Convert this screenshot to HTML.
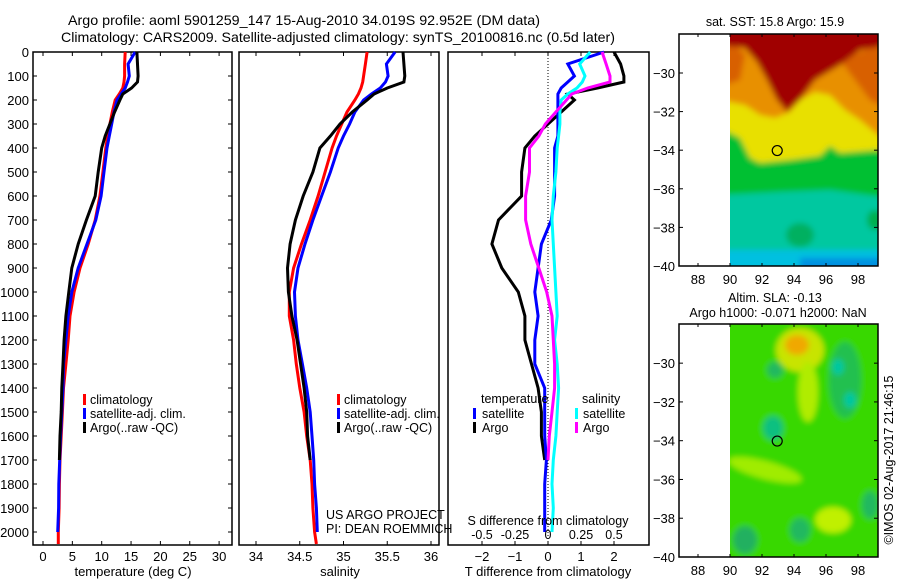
<!DOCTYPE html>
<html><head><meta charset="utf-8"><style>
html,body{margin:0;padding:0;background:#fff;}
svg{display:block;font-family:"Liberation Sans",sans-serif;}
</style></head><body>
<svg id="fig" width="900" height="580" viewBox="0 0 900 580" xmlns="http://www.w3.org/2000/svg">
<text x="68" y="25" font-size="14" textLength="472" lengthAdjust="spacingAndGlyphs">Argo profile: aoml 5901259_147 15-Aug-2010 34.019S 92.952E (DM data)</text>
<text x="61" y="42" font-size="14" textLength="554" lengthAdjust="spacingAndGlyphs">Climatology: CARS2009. Satellite-adjusted climatology: synTS_20100816.nc (0.5d later)</text>
<g id="maps"></g>
<g id="panels"></g>
</svg>
<script>
// ---- profile data ----
const depths = [0,50,100,125,150,175,200,250,300,350,400,500,600,700,800,900,1000,1100,1200,1300,1400,1500,1600,1700,1800,1900,2000,2050];
const tempClim = [14.0,13.9,13.9,13.8,13.6,13.0,12.3,11.8,11.4,11.0,10.7,10.2,9.7,8.9,7.7,6.3,5.3,4.6,4.3,3.9,3.5,3.3,3.1,2.9,2.8,2.75,2.6,2.6];
const tempSat = [15.7,14.5,14.7,14.4,14.0,13.3,12.6,12.1,11.7,11.3,10.9,10.4,9.9,9.0,7.5,6.0,4.9,4.3,3.9,3.5,3.4,3.2,3.0,2.85,2.7,2.65,2.5,null];
const tempArgo = [16.0,16.1,16.2,16.1,15.1,13.6,13.1,12.2,11.4,10.6,10.0,9.4,8.9,7.4,6.0,4.9,4.4,3.9,3.6,3.4,3.2,3.1,2.9,2.8,null,null,null,null];
const salClim = [35.27,35.25,35.23,35.22,35.20,35.17,35.13,35.04,34.98,34.92,34.87,34.79,34.71,34.62,34.52,34.43,34.38,34.38,34.43,34.46,34.50,34.55,34.58,34.62,34.64,34.65,34.67,34.69];
const salSat = [35.59,35.49,35.51,35.48,35.42,35.32,35.23,35.13,35.07,35.00,34.94,34.85,34.75,34.65,34.56,34.48,34.44,34.45,34.48,34.53,34.58,34.62,34.64,34.66,34.67,34.69,34.70,null];
const salArgo = [35.68,35.69,35.70,35.69,35.50,35.35,35.27,35.10,34.96,34.85,34.73,34.65,34.54,34.45,34.39,34.36,34.37,34.41,34.47,34.51,34.55,34.58,34.59,34.62,null,null,null,null];
const depthTicks = [0,100,200,300,400,500,600,700,800,900,1000,1100,1200,1300,1400,1500,1600,1700,1800,1900,2000];
const tempTicks = [0,5,10,15,20,25,30];
const salTicks = [34,34.5,35,35.5,36];
const salTickLabels = ["34","34.5","35","35.5","36"];
const tdTicks = [-2,-1,0,1,2];
const sdTicks = [-0.5,-0.25,0,0.25,0.5];
const sdTickLabels = ["-0.5","-0.25","0","0.25","0.5"];
const mapLonTicks = [88,90,92,94,96,98];
const mapLatTicks = [-30,-32,-34,-36,-38,-40];
const argoLon = 92.952, argoLat = -34.019;

const NS="http://www.w3.org/2000/svg";
const panels=document.getElementById('panels');
const mapsG=document.getElementById('maps');
function mk(tag,attrs,parent){const e=document.createElementNS(NS,tag);for(const k in attrs)e.setAttribute(k,attrs[k]);(parent||panels).appendChild(e);return e;}
const yD = d => 52 + d*0.24;
const xT = t => 43 + t*5.87;
const xS = s => 256 + (s-34)*87.5;
const xTD = t => 548 + t*33;
const xSD = s => 548 + s*132;

function line(vals,xf,color,name,w){
  let d='';let pen=false;
  vals.forEach((v,i)=>{ if(v===null||v===undefined||isNaN(v)){pen=false;return;}
    d+=(pen?'L':'M')+xf(v).toFixed(1)+' '+yD(depths[i]).toFixed(1);pen=true;});
  const p=mk('path',{d:d,fill:'none',stroke:color,'stroke-width':w||3,'stroke-linejoin':'miter'});
  
  
}
function txt(x,y,s,size,anchor,name){const t=mk('text',{x:x,y:y,'font-size':size,'text-anchor':anchor||'start'});t.textContent=s;
  
  return t;}
function frame(x0,x1,name){const r=mk('rect',{x:x0,y:52,width:x1-x0,height:493,fill:'none',stroke:'#000','stroke-width':1.5});
  
  }
function legendMark(x,y,color,name){const r=mk('rect',{x:x,y:y-10,width:3,height:11,fill:color});
  
  }

// Panel 1: temperature
frame(33,232,'temperature-panel');
depthTicks.forEach(d=>{mk('line',{x1:33,x2:37,y1:yD(d),y2:yD(d),stroke:'#000'});mk('line',{x1:228,x2:232,y1:yD(d),y2:yD(d),stroke:'#000'});
  txt(29,yD(d)+5,String(d),13,'end','depth-tick-label');});
tempTicks.forEach(t=>{mk('line',{x1:xT(t),x2:xT(t),y1:52,y2:56,stroke:'#000'});mk('line',{x1:xT(t),x2:xT(t),y1:541,y2:545,stroke:'#000'});
  txt(xT(t),561,String(t),13,'middle','temperature-tick-label');});
txt(133,576,'temperature (deg C)',13,'middle','temperature-axis-title');
line(tempClim,xT,'#f00','temp-climatology-line');
line(tempSat,xT,'#00f','temp-satellite-line');
line(tempArgo,xT,'#000','temp-argo-line');
legendMark(83,404,'#f00','legend-climatology-marker');txt(90,404,'climatology',12.5,'start','legend-climatology');
legendMark(83,418,'#00f','legend-satellite-marker');txt(90,418,'satellite-adj. clim.',12.5,'start','legend-satellite');
legendMark(83,432,'#000','legend-argo-marker');txt(90,432,'Argo(..raw -QC)',12.5,'start','legend-argo');

// Panel 2: salinity
frame(239,439,'salinity-panel');
salTicks.forEach((s,i)=>{mk('line',{x1:xS(s),x2:xS(s),y1:52,y2:56,stroke:'#000'});mk('line',{x1:xS(s),x2:xS(s),y1:541,y2:545,stroke:'#000'});
  txt(xS(s),561,salTickLabels[i],13,'middle','salinity-tick-label');});
txt(340,576,'salinity',13,'middle','salinity-axis-title');
line(salClim,xS,'#f00','sal-climatology-line');
line(salSat,xS,'#00f','sal-satellite-line');
line(salArgo,xS,'#000','sal-argo-line');
legendMark(337,404,'#f00','legend2-climatology-marker');txt(344,404,'climatology',12.5,'start','legend2-climatology');
legendMark(337,418,'#00f','legend2-satellite-marker');txt(344,418,'satellite-adj. clim.',12.5,'start','legend2-satellite');
legendMark(337,432,'#000','legend2-argo-marker');txt(344,432,'Argo(..raw -QC)',12.5,'start','legend2-argo');
txt(326,519,'US ARGO PROJECT',12.5,'start','credit-project');
txt(326,533,'PI: DEAN ROEMMICH',12.5,'start','credit-pi');

// Panel 3: differences
frame(448,649,'difference-panel');
mk('line',{x1:548,x2:548,y1:52,y2:545,stroke:'#000','stroke-dasharray':'1,2'});
tdTicks.forEach(t=>{mk('line',{x1:xTD(t),x2:xTD(t),y1:52,y2:56,stroke:'#000'});mk('line',{x1:xTD(t),x2:xTD(t),y1:541,y2:545,stroke:'#000'});
  txt(xTD(t),561,String(t).replace('-','\u2212'),13,'middle','tdiff-tick-label');});
const tdSat=tempSat.map((v,i)=>v===null?null:v-tempClim[i]);
const tdArgo=tempArgo.map((v,i)=>v===null?null:v-tempClim[i]);
const sdSat=salSat.map((v,i)=>v===null?null:v-salClim[i]);
const sdArgo=salArgo.map((v,i)=>v===null?null:v-salClim[i]);
line(tdArgo,xTD,'#000','tdiff-argo-line');
line(tdSat,xTD,'#00f','tdiff-satellite-line');
line(sdSat,xSD,'#0ff','sdiff-satellite-line');
line(sdArgo,xSD,'#f0f','sdiff-argo-line');
txt(548,525,'S difference from climatology',12.5,'middle','sdiff-axis-title');
sdTicks.forEach((s,i)=>txt(xSD(s),539,sdTickLabels[i],12.5,'middle','sdiff-tick-label'));
txt(548,576,'T difference from climatology',13,'middle','tdiff-axis-title');
txt(481,403,'temperature',12.5,'start','legend3-temperature-heading');
legendMark(473,418,'#00f','legend3-tsat-marker');txt(482,418,'satellite',12.5,'start','legend3-tsat');
legendMark(473,432,'#000','legend3-targo-marker');txt(482,432,'Argo',12.5,'start','legend3-targo');
txt(582,403,'salinity',12.5,'start','legend3-salinity-heading');
legendMark(575,418,'#0ff','legend3-ssat-marker');txt(583,418,'satellite',12.5,'start','legend3-ssat');
legendMark(575,432,'#f0f','legend3-sargo-marker');txt(583,432,'Argo',12.5,'start','legend3-sargo');

// ---- maps ----
const mx = lon => 730 + (lon-90)*16;
function mapAxes(top,bottom,name){
  const r=mk('rect',{x:679,y:top,width:199,height:bottom-top,fill:'none',stroke:'#000','stroke-width':1.5},mapsG);
  
  
  mapLonTicks.forEach(l=>{mk('line',{x1:mx(l),x2:mx(l),y1:top,y2:top+3,stroke:'#000'},mapsG);mk('line',{x1:mx(l),x2:mx(l),y1:bottom-3,y2:bottom,stroke:'#000'},mapsG);
    const t=mk('text',{x:mx(l),y:bottom+18,'font-size':13,'text-anchor':'middle'},mapsG);t.textContent=String(l);
    
    });
  mapLatTicks.forEach(l=>{const y=top+(-27.98-l)*(bottom-top)/12.02;
    mk('line',{x1:679,x2:683,y1:y,y2:y,stroke:'#000'},mapsG);mk('line',{x1:874,x2:878,y1:y,y2:y,stroke:'#000'},mapsG);
    const t=mk('text',{x:675,y:y+5,'font-size':13,'text-anchor':'end'},mapsG);t.textContent=String(l).replace('-','\u2212');
    
    });
  const cy=top+(-27.98-argoLat)*(bottom-top)/12.02;
  const c=mk('circle',{cx:mx(argoLon),cy:cy,r:5,fill:'none',stroke:'#000','stroke-width':1.2},mapsG);
  
  
}
const defs=mk('defs',{},mapsG);
const bl=mk('filter',{id:'blur',x:'-20%',y:'-20%',width:'140%',height:'140%'},defs);mk('feGaussianBlur',{stdDeviation:'3'},bl);
const clip1=mk('clipPath',{id:'c1'},defs);mk('rect',{x:730,y:34,width:148,height:232},clip1);
const clip2=mk('clipPath',{id:'c2'},defs);mk('rect',{x:730,y:324,width:148,height:233},clip2);
const sst=mk('g',{'clip-path':'url(#c1)'},mapsG);


const sg=mk('g',{filter:'url(#blur)'},sst);
mk('rect',{x:720,y:25,width:170,height:250,fill:'#e89000'},sg);
mk('polygon',{points:'720,40 730,40 745,55 740,80 725,85',fill:'#d86000'},sg);
mk('polygon',{points:'840,60 878,45 890,60 890,110 870,100',fill:'#d86000'},sg);
mk('polygon',{points:'720,100 745,105 760,115 775,118 790,112 800,100 815,92 830,95 845,110 860,120 878,135 890,140 890,280 720,280',fill:'#e8e000'},sg);
mk('polygon',{points:'720,128 740,138 750,158 760,163 790,160 820,156 830,146 840,153 878,150 890,150 890,280 720,280',fill:'#00c030'},sg);
mk('polygon',{points:'720,195 780,192 830,190 890,198 890,280 720,280',fill:'#00c8a0'},sg);
mk('ellipse',{cx:800,cy:235,rx:14,ry:12,fill:'#00b060'},sg);
mk('ellipse',{cx:875,cy:220,rx:8,ry:10,fill:'#00b050'},sg);
mk('rect',{x:720,y:250,width:170,height:30,fill:'#00c0e0'},sg);
mk('rect',{x:800,y:258,width:90,height:20,fill:'#0090e0'},sg);
mk('polygon',{points:'720,25 890,25 890,45 860,50 840,65 815,80 800,100 787,112 777,100 767,80 757,62 745,48 720,45',fill:'#a00000'},sg);
mapAxes(34,266,'sst-map');
const t1=mk('text',{x:775,y:26,'font-size':12.5,'text-anchor':'middle'},mapsG);t1.textContent='sat. SST: 15.8 Argo: 15.9';



const sla=mk('g',{'clip-path':'url(#c2)'},mapsG);


const lg=mk('g',{filter:'url(#blur)'},sla);
mk('rect',{x:720,y:315,width:170,height:250,fill:'#38d800'},lg);
mk('ellipse',{cx:800,cy:350,rx:24,ry:22,fill:'#c8e400'},lg);
mk('ellipse',{cx:808,cy:392,rx:10,ry:30,fill:'#b0ec00'},lg);
mk('ellipse',{cx:797,cy:345,rx:12,ry:10,fill:'#f0a800'},lg);
mk('ellipse',{cx:765,cy:470,rx:38,ry:9,fill:'#a0ec00',transform:'rotate(15 765 470)'},lg);
mk('ellipse',{cx:833,cy:520,rx:18,ry:13,fill:'#c0f000'},lg);
mk('ellipse',{cx:845,cy:380,rx:16,ry:38,fill:'#20c050'},lg);
mk('ellipse',{cx:838,cy:367,rx:6,ry:8,fill:'#00c8a0'},lg);
mk('ellipse',{cx:850,cy:400,rx:6,ry:8,fill:'#00c8a0'},lg);
mk('ellipse',{cx:773,cy:428,rx:10,ry:12,fill:'#10c080'},lg);
mk('ellipse',{cx:775,cy:370,rx:8,ry:8,fill:'#20b860'},lg);
mk('ellipse',{cx:745,cy:540,rx:12,ry:14,fill:'#20b060'},lg);
mk('ellipse',{cx:800,cy:530,rx:10,ry:12,fill:'#20b860'},lg);
mk('ellipse',{cx:870,cy:505,rx:8,ry:14,fill:'#20b860'},lg);
mapAxes(324,557,'sla-map');
const t2=mk('text',{x:775,y:302,'font-size':12.5,'text-anchor':'middle'},mapsG);t2.textContent='Altim. SLA: -0.13';


const t3=mk('text',{x:778,y:317,'font-size':12.5,'text-anchor':'middle'},mapsG);t3.textContent='Argo h1000: -0.071 h2000: NaN';


const t4=mk('text',{x:893,y:460,'font-size':12.5,'text-anchor':'middle',transform:'rotate(-90 893 460)'},mapsG);t4.textContent='\u00A9IMOS 02-Aug-2017 21:46:15';


</script>
</body></html>
